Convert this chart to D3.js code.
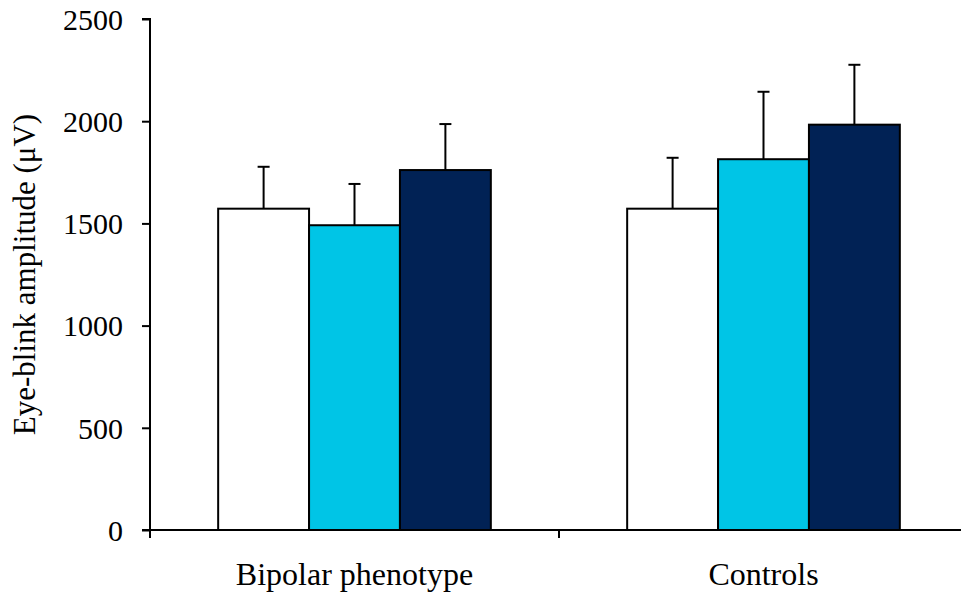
<!DOCTYPE html>
<html><head><meta charset="utf-8">
<script src="https://cdn.jsdelivr.net/npm/d3@7"></script>
<style>body{margin:0;background:#fff}svg{display:block}</style>
</head><body>
<script>
const groups = ["Bipolar phenotype", "Controls"];
const seriesNames = ["A", "B", "C"];
const seriesColors = ["#ffffff", "#00c5e6", "#012255"];
const means = [[1572, 1491, 1761], [1572, 1814, 1983]];
const errs = [[205, 202, 225], [249, 330, 293]];
const yTicks = [0, 500, 1000, 1500, 2000, 2500];

const W = 961, H = 596;
const svg = d3.select("body").append("svg").attr("width", W).attr("height", H);
const FONT = '"Liberation Serif"';

const y = d3.scaleLinear().domain([0, 2500]).range([530, 19]);
const x0 = d3.scaleBand().domain(groups).range([150, 968]).padding(0);
const x1 = d3.scaleBand().domain(seriesNames).range([0, x0.bandwidth()]).paddingInner(0).paddingOuter(0.75);

// bars
groups.forEach((g, gi) => {
  const gg = svg.append("g").attr("transform", `translate(${x0(g)},0)`);
  seriesNames.forEach((s, si) => {
    const v = means[gi][si], e = errs[gi][si];
    const cx = x1(s) + x1.bandwidth() / 2;
    gg.append("line").attr("x1", cx).attr("x2", cx).attr("y1", y(v)).attr("y2", y(v + e))
      .attr("stroke", "#000").attr("stroke-width", 2);
    gg.append("line").attr("x1", cx - 6).attr("x2", cx + 6).attr("y1", y(v + e)).attr("y2", y(v + e))
      .attr("stroke", "#000").attr("stroke-width", 2);
    gg.append("rect").attr("x", x1(s)).attr("y", y(v)).attr("width", x1.bandwidth())
      .attr("height", y(0) - y(v)).attr("fill", seriesColors[si]).attr("stroke", "#000").attr("stroke-width", 2);
  });
});

// y axis
const ya = svg.append("g").attr("transform", "translate(150,0)")
  .call(d3.axisLeft(y).tickValues(yTicks).tickSize(8).tickPadding(19).tickFormat(d3.format("d")));
ya.select(".domain").attr("stroke-width", 2).attr("d", `M-8,${y(2500)}H0V${y(0)}`);
ya.selectAll(".tick line").attr("stroke-width", 2);
ya.selectAll("text").style("font-family", FONT).style("font-size", "30px").attr("fill", "#000").attr("dy", "0.34em");

// x axis
const xa = svg.append("g").attr("transform", "translate(0,530)");
xa.append("line").attr("x1", 142).attr("x2", 968).attr("y1", 0).attr("y2", 0).attr("stroke", "#000").attr("stroke-width", 2);
const bounds = [x0.range()[0]].concat(groups.map(g => x0(g) + x0.bandwidth()));
xa.selectAll("line.t").data(bounds).enter().append("line").attr("class", "t")
  .attr("x1", d => d).attr("x2", d => d).attr("y1", 0).attr("y2", 8).attr("stroke", "#000").attr("stroke-width", 2);
xa.selectAll("text").data(groups).enter().append("text")
  .attr("x", d => x0(d) + x0.bandwidth() / 2).attr("y", 55).attr("text-anchor", "middle")
  .style("font-family", FONT).style("font-size", "32px").attr("fill", "#000").text(d => d);

svg.append("text").attr("transform", `translate(35,${(y(0) + y(2500)) / 2}) rotate(-90)`)
  .attr("text-anchor", "middle").style("font-family", FONT).style("font-size", "31px").attr("fill", "#000")
  .text("Eye-blink amplitude (μV)");
</script>
</body></html>
